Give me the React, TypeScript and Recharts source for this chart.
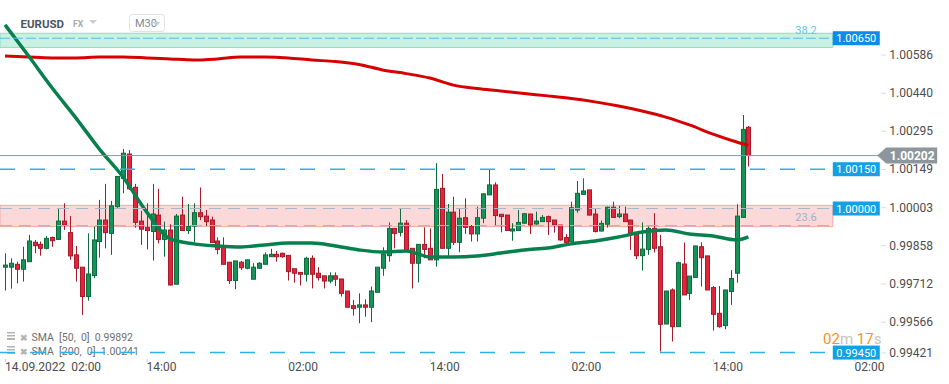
import React from 'react';
import { ComposedChart, Bar, Line, XAxis, YAxis, ReferenceArea, ReferenceLine } from 'recharts';

// EURUSD M30 candles, 14.09.2022 02:00 onwards (one value per candle)
const opens = [
    0.99776, 0.99776, 0.99787, 0.99768, 0.99797, 0.99871, 0.99863, 0.99848, 0.99889, 0.99882,
    0.99952, 0.99908, 0.99823, 0.99776, 0.99664, 0.99744, 0.99874, 0.99956, 0.99905, 1.00007,
    1.00115, 1.00208, 1.00081, 0.99952, 0.99927, 0.99912, 0.99975, 0.99882, 0.99918, 0.99711,
    0.99975, 0.99916, 0.99933, 0.99984, 0.99971, 0.99956, 0.99876, 0.99851, 0.99795, 0.99725,
    0.99795, 0.99772, 0.9973, 0.99772, 0.99787, 0.99816, 0.99825, 0.99829, 0.99821, 0.9977,
    0.99756, 0.99749, 0.9981, 0.99753, 0.99743, 0.99723, 0.99743, 0.99731, 0.99685, 0.99629,
    0.99623, 0.99632, 0.99623, 0.9968, 0.99772, 0.9982, 0.99924, 0.99909, 0.99944, 0.99848,
    0.99791, 0.99863, 0.99848, 0.99804, 1.00077, 0.99848, 0.99986, 0.99871, 0.99965, 0.99931,
    0.99903, 0.99963, 1.00052, 1.0009, 0.99978, 0.99975, 0.99914, 0.99916, 0.99944, 0.99979,
    0.99941, 0.9995, 0.99969, 0.99956, 0.99937, 0.99889, 0.99873, 0.99994, 1.00054, 1.00071,
    0.99979, 0.99914, 0.9994, 1.00005, 0.99969, 0.99979, 0.99956, 0.99908, 0.9982, 0.99844,
    0.99924, 0.99854, 0.99559, 0.99689, 0.99549, 0.99788, 0.99676, 0.99737, 0.99854, 0.99819,
    0.99698, 0.996, 0.99553, 0.99683, 0.99753, 0.99966, 1.0031,
];
const highs = [
    0.99829, 0.9981, 0.99797, 0.99854, 0.99899, 0.9988, 0.99874, 0.99895, 0.99893, 1.00001,
    1.0002, 0.99971, 0.99857, 0.99776, 0.99905, 0.99931, 1.00033, 1.00094, 1.00029, 1.00122,
    1.00227, 1.00223, 1.00094, 0.99991, 1.0002, 1.00094, 1.00075, 0.9995, 0.9994, 0.99979,
    1.00045, 1.00017, 1.0002, 1.0008, 0.99994, 0.99969, 0.9989, 0.9989, 0.99795, 0.998,
    0.998, 0.99804, 0.99791, 0.99795, 0.99833, 0.99846, 0.99838, 0.99832, 0.99821, 0.9977,
    0.99756, 0.99816, 0.99821, 0.99776, 0.99743, 0.99756, 0.99756, 0.99731, 0.99685, 0.99651,
    0.99676, 0.99653, 0.99702, 0.99776, 0.99852, 0.99947, 0.99924, 1.00001, 0.99956, 0.99848,
    0.99863, 0.99928, 0.99924, 1.00173, 1.00132, 1.00017, 1.00045, 1.00001, 1.00039, 0.99937,
    1.00007, 1.00058, 1.00147, 1.001, 0.99978, 0.99975, 0.99944, 0.99994, 0.99982, 0.99979,
    0.99988, 0.99975, 0.99973, 0.99956, 0.99937, 0.99903, 1.00026, 1.00105, 1.00115, 1.00071,
    0.99998, 0.99954, 1.00007, 1.00026, 1.0001, 1.00007, 0.99956, 0.99908, 0.99947, 0.99931,
    0.99982, 0.99899, 0.99685, 0.99695, 0.99797, 0.9987, 0.99742, 0.99858, 0.99871, 0.99819,
    0.99704, 0.99704, 0.99689, 0.99765, 1.00016, 1.00357, 1.00315,
];
const lows = [
    0.99687, 0.99694, 0.99714, 0.99721, 0.99797, 0.99829, 0.9982, 0.99844, 0.99854, 0.99882,
    0.99918, 0.99804, 0.99721, 0.99594, 0.99648, 0.99734, 0.99812, 0.99848, 0.99823, 1.00003,
    1.00058, 1.00071, 0.99927, 0.99861, 0.99844, 0.99801, 0.99867, 0.99816, 0.99706, 0.99711,
    0.99916, 0.99903, 0.9987, 0.99956, 0.99933, 0.9987, 0.99825, 0.99787, 0.99712, 0.99692,
    0.99765, 0.99768, 0.9973, 0.9977, 0.99787, 0.99816, 0.99797, 0.99812, 0.99725, 0.99717,
    0.99706, 0.99721, 0.99695, 0.99725, 0.99695, 0.99714, 0.99704, 0.99664, 0.99623, 0.99591,
    0.99562, 0.99587, 0.99566, 0.9968, 0.99743, 0.99797, 0.99848, 0.99893, 0.99842, 0.99695,
    0.99718, 0.9981, 0.99804, 0.99778, 0.99846, 0.99819, 0.99861, 0.99833, 0.99903, 0.99874,
    0.99874, 0.99944, 1.00052, 0.99935, 0.99909, 0.99916, 0.99877, 0.99916, 0.99941, 0.99903,
    0.99938, 0.9995, 0.99899, 0.99908, 0.99877, 0.9987, 0.99873, 0.99984, 1.00054, 0.99973,
    0.99909, 0.99912, 0.99927, 0.99966, 0.99963, 0.9995, 0.99842, 0.99807, 0.99763, 0.99823,
    0.99832, 0.99454, 0.99559, 0.99492, 0.99549, 0.9967, 0.99651, 0.99737, 0.99702, 0.99689,
    0.99534, 0.99545, 0.99539, 0.99632, 0.99717, 0.99966, 1.0016,
];
const closes = [
    0.99784, 0.99791, 0.99768, 0.99804, 0.99876, 0.99858, 0.99848, 0.99886, 0.99877, 0.99952,
    0.99937, 0.99819, 0.99772, 0.99664, 0.9975, 0.9988, 0.99956, 0.99908, 1.0001, 1.00122,
    1.00211, 1.00075, 0.99947, 0.99921, 0.99916, 0.99979, 0.99882, 0.99918, 0.99708, 0.99971,
    0.99916, 0.99931, 0.99984, 0.99969, 0.9995, 0.9987, 0.99844, 0.99787, 0.99725, 0.998,
    0.99774, 0.99804, 0.99776, 0.99791, 0.99823, 0.99825, 0.99816, 0.99816, 0.99759, 0.99753,
    0.99749, 0.9981, 0.99749, 0.99736, 0.99723, 0.99743, 0.9973, 0.99676, 0.99623, 0.99618,
    0.99632, 0.99623, 0.99685, 0.99776, 0.99826, 0.99924, 0.99905, 0.99944, 0.99842, 0.99791,
    0.99863, 0.99844, 0.99804, 1.00073, 0.99848, 0.99986, 0.99871, 0.99963, 0.99928, 0.99903,
    0.99965, 1.00056, 1.0009, 0.99973, 0.99969, 0.99916, 0.99922, 0.99947, 0.9998, 0.99937,
    0.99952, 0.99966, 0.9995, 0.99937, 0.9988, 0.9987, 1.00003, 1.00058, 1.00067, 0.99975,
    0.99912, 0.99943, 1.00005, 0.99966, 0.99979, 0.9995, 0.99905, 0.9982, 0.99845, 0.99924,
    0.99848, 0.99558, 0.99685, 0.99549, 0.99793, 0.9967, 0.99742, 0.99857, 0.99812, 0.99689,
    0.99596, 0.99549, 0.99689, 0.99733, 0.99971, 1.00302, 1.00202,
];

// moving averages, read every 4th candle
const smaIndex = [0, 4, 8, 12, 16, 20, 24, 28, 32, 36, 40, 44, 48, 52, 56, 60, 64, 68, 72, 76, 80, 84, 88, 92, 96, 100, 104, 108, 112, 116, 120, 124, 126];
const sma50 = [
    1.00701, 1.00582, 1.0046, 1.00346, 1.00227, 1.0012, 0.99987, 0.99884, 0.99865, 0.99857, 0.99853,
    0.99861, 0.99868, 0.99868, 0.99857, 0.99842, 0.99834, 0.99838, 0.99815, 0.99815, 0.99819, 0.9983,
    0.99842, 0.99849, 0.99865, 0.99876, 0.99891, 0.9991, 0.99918, 0.99903, 0.99895, 0.9988, 0.99892,
];
const sma200 = [
    1.00582, 1.00578, 1.00575, 1.00575, 1.00578, 1.00578, 1.00575, 1.00571, 1.00567, 1.00571, 1.00578,
    1.00578, 1.00575, 1.00567, 1.00561, 1.0055, 1.00529, 1.00515, 1.00498, 1.00471, 1.00458, 1.00449,
    1.00439, 1.0043, 1.0042, 1.00407, 1.00391, 1.00372, 1.00349, 1.00319, 1.00284, 1.00254, 1.00241,
];

const timeTicks = [0, 24, 48, 72, 96, 120, 144];
const timeLabels = ['14.09.2022  02:00', '14:00', '02:00', '14:00', '02:00', '14:00', '02:00'];
const priceTicks = [1.00586, 1.0044, 1.00295, 1.00149, 1.00003, 0.99858, 0.99712, 0.99566, 0.99421];

const lastPrice = 1.00202;
const fibZone = [1.00615, 1.00669];
const supplyZone = [0.99931, 1.00012];
const fib382 = 1.0065;
const fib236 = 0.99935;
const levelLines = [1.0015, 1.0, 0.9945];

const X_MIN = -0.85;
const X_MAX = 160;
const ZONE_END = 140.3;
const LAST_END = 148;
const PRICE_LABEL_RIGHT = 933;

const candles = opens.map((o, i) => ({ i, open: o, high: highs[i], low: lows[i], close: closes[i] }));
const smaRows = smaIndex.map((i, k) => ({ i, sma50: sma50[k], sma200: sma200[k] }));

const FONT = 'Roboto, sans-serif';

function Candle(props: any) {
    const { x, y, width, height, payload } = props;
    const { open, close, high, low } = payload;
    const up = close >= open;
    const fill = up ? '#169457' : '#e0263a';
    const stroke = up ? '#0c6b3d' : '#a8192a';
    const top = Math.min(y, y + height);
    const h = Math.abs(height);
    const ratio = high - low > 0 ? h / (high - low) : 0;
    const c = Math.round(x + width / 2);
    const bTop = top + (high - Math.max(open, close)) * ratio;
    const bBot = top + (high - Math.min(open, close)) * ratio;
    return (
        <g>
            <line x1={c + 0.5} x2={c + 0.5} y1={top} y2={top + h} stroke={stroke} strokeWidth={1} />
            <rect x={c - 1.5} y={bTop} width={4} height={Math.max(1, bBot - bTop)} fill={fill} stroke={stroke} strokeWidth={1} />
        </g>
    );
}

function TimeTick(props: any) {
    const { x, y, payload } = props;
    const idx = timeTicks.indexOf(payload.value);
    return (
        <g>
            <line x1={x + 0.5} x2={x + 0.5} y1={y - 3} y2={y} stroke="#d0d0d0" />
            <text x={x} y={y + 9} fontSize={12} fill="#4d4d4d" fontFamily={FONT} style={{ whiteSpace: 'pre' }}>
                {timeLabels[idx]}
            </text>
        </g>
    );
}

function PriceTick(props: any) {
    const { y, payload } = props;
    const yy = Math.min(y, 353);
    return (
        <g>
            <line x1={PRICE_LABEL_RIGHT - 52} x2={PRICE_LABEL_RIGHT - 47} y1={yy} y2={yy} stroke="#dcdcdc" />
            <text x={PRICE_LABEL_RIGHT} y={yy + 4} textAnchor="end" fontSize={12} fill="#4d4d4d" fontFamily={FONT}>
                {payload.value.toFixed(5)}
            </text>
        </g>
    );
}

function PriceTag(props: any) {
    const { viewBox, text, color, fib, fibColor } = props;
    const endX = viewBox.x + viewBox.width;
    const y = viewBox.y;
    return (
        <g>
            {fib && (
                <text x={endX - 16} y={fib === '38.2' ? y - 4 : y - 5} textAnchor="end" fontSize={11} fill={fibColor} fontFamily={FONT}>
                    {fib}
                </text>
            )}
            {text && (
                <g>
                    <rect x={endX} y={y - 7} width={47} height={14} fill={color} />
                    <text x={endX + 23.5} y={y + 4} textAnchor="middle" fontSize={11} fill="#fff" fontFamily={FONT}>
                        {text}
                    </text>
                </g>
            )}
        </g>
    );
}

function LastTag(props: any) {
    const { viewBox } = props;
    const x = viewBox.x + viewBox.width;
    const y = viewBox.y;
    return (
        <g>
            <polygon points={`${x - 1},${y} ${x + 8},${y - 8} ${x + 59},${y - 8} ${x + 59},${y + 8} ${x + 8},${y + 8}`} fill="#8c969b" />
            <text x={x + 34} y={y + 4.5} textAnchor="middle" fontSize={12} fontWeight="bold" fill="#fff" fontFamily={FONT}>
                {lastPrice.toFixed(5)}
            </text>
        </g>
    );
}

function Overlay() {
    return (
        <svg width={949} height={384} style={{ position: 'absolute', left: 0, top: 0 }} fontFamily={FONT}>
            <text x={20.5} y={27.5} fontSize={11.5} fontWeight="bold" fill="#4a5661">EURUSD</text>
            <text x={73} y={27.3} fontSize={8.5} fontWeight="bold" fill="#a3abb3">FX</text>
            <polygon points="89,20 97,20 93,24" fill="#c8cdd2" />
            <rect x={129.5} y={14.5} width={35} height={17} rx={3} fill="#fff" stroke="#dfe3e6" />
            <text x={135} y={27.3} fontSize={11} fill="#7f8a94">M30</text>
            <polygon points="152.5,22 160.5,22 156.5,26" fill="#c8cdd2" />

            <g fill="#b4b4b4">
                <rect x={7} y={332} width={8} height={1.5} />
                <rect x={7} y={335} width={8} height={1.5} />
                <rect x={7} y={338} width={8} height={2} />
                <rect x={7} y={346} width={8} height={1.5} />
                <rect x={7} y={349} width={8} height={1.5} />
                <rect x={7} y={352} width={8} height={2} />
            </g>
            <text x={19.5} y={340.5} fontSize={9} fontWeight="bold" fill="#b4b4b4">✖</text>
            <text x={19.5} y={354.5} fontSize={9} fontWeight="bold" fill="#b4b4b4">✖</text>
            <text x={31.5} y={340.5} fontSize={10.5} fill="#6f6f6f" style={{ whiteSpace: 'pre' }}>SMA  [50,  0]  0.99892</text>
            <text x={31.5} y={354.5} fontSize={10.5} fill="#6f6f6f" style={{ whiteSpace: 'pre' }}>SMA  [200,  0]  1.00241</text>

            <text x={823} y={344} fontSize={15} fontFamily={FONT}>
                <tspan fill="#f7941d">02</tspan>
                <tspan fill="#c4c4c4">m </tspan>
                <tspan fill="#f7941d">17</tspan>
                <tspan fill="#c4c4c4">s</tspan>
            </text>
        </svg>
    );
}

export default function App() {
    return (
        <div style={{ position: 'absolute', left: 0, top: 0, width: 949, height: 384, background: '#fff', fontFamily: FONT }}>
            <Overlay />
            <div style={{ position: 'absolute', left: 0, top: 0 }}>
                <ComposedChart width={949} height={384} data={candles} margin={{ top: 0, right: 0, bottom: 0, left: 0 }}>
                    <XAxis
                        dataKey="i"
                        type="number"
                        domain={[X_MIN, X_MAX]}
                        allowDataOverflow
                        ticks={timeTicks}
                        interval={0}
                        height={22}
                        tickSize={0}
                        tickMargin={0}
                        axisLine={false}
                        tick={<TimeTick />}
                    />
                    <YAxis
                        orientation="right"
                        mirror
                        width={1}
                        domain={[0.99414, 1.00796]}
                        allowDataOverflow
                        ticks={priceTicks}
                        interval={0}
                        tickSize={0}
                        tickMargin={16}
                        axisLine={false}
                        tick={<PriceTick />}
                    />
                    <Bar dataKey={(d: any) => [d.low, d.high]} barSize={4} shape={<Candle />} isAnimationActive={false} />
                    <Line data={smaRows} dataKey="sma200" type="monotone" stroke="#d70000" strokeWidth={3} dot={false} activeDot={false} isAnimationActive={false} />
                    <Line data={smaRows} dataKey="sma50" type="monotone" stroke="#08804e" strokeWidth={3.5} dot={false} activeDot={false} isAnimationActive={false} />

                    <ReferenceArea x1={X_MIN} x2={ZONE_END} y1={fibZone[0]} y2={fibZone[1]} fill="#7fdcbc" fillOpacity={0.42} stroke="#8edcc2" />
                    <ReferenceArea x1={X_MIN} x2={ZONE_END} y1={supplyZone[0]} y2={supplyZone[1]} fill="#f49a9a" fillOpacity={0.38} stroke="#f3aaaa" />

                    <ReferenceLine
                        segment={[{ x: X_MIN, y: fib382 }, { x: ZONE_END, y: fib382 }]}
                        stroke="#4fc0e8"
                        strokeDasharray="10 3"
                        label={<PriceTag text="1.00650" color="#0d8be8" fib="38.2" fibColor="#5cc4ea" />}
                    />
                    <ReferenceLine
                        segment={[{ x: X_MIN, y: fib236 }, { x: ZONE_END, y: fib236 }]}
                        stroke="#a7b6cf"
                        strokeDasharray="12 7"
                        label={<PriceTag fib="23.6" fibColor="#9db0c8" />}
                    />
                    <ReferenceLine
                        segment={[{ x: X_MIN, y: lastPrice }, { x: LAST_END, y: lastPrice }]}
                        stroke="#8c969b"
                        label={<LastTag />}
                    />
                    <ReferenceLine
                        segment={[{ x: X_MIN, y: levelLines[0] }, { x: ZONE_END, y: levelLines[0] }]}
                        stroke="#2fb0ea"
                        strokeWidth={1.5}
                        strokeDasharray="15 15"
                        label={<PriceTag text="1.00150" color="#12a2e4" />}
                    />
                    <ReferenceLine
                        segment={[{ x: X_MIN, y: levelLines[1] }, { x: ZONE_END, y: levelLines[1] }]}
                        stroke="#a7b6cf"
                        strokeDasharray="12 7"
                        label={<PriceTag text="1.00000" color="#12a2e4" />}
                    />
                    <ReferenceLine
                        segment={[{ x: X_MIN, y: levelLines[2] }, { x: ZONE_END, y: levelLines[2] }]}
                        stroke="#2fb0ea"
                        strokeWidth={1.5}
                        strokeDasharray="15 15"
                        label={<PriceTag text="0.99450" color="#12a2e4" />}
                    />
                </ComposedChart>
            </div>
        </div>
    );
}
